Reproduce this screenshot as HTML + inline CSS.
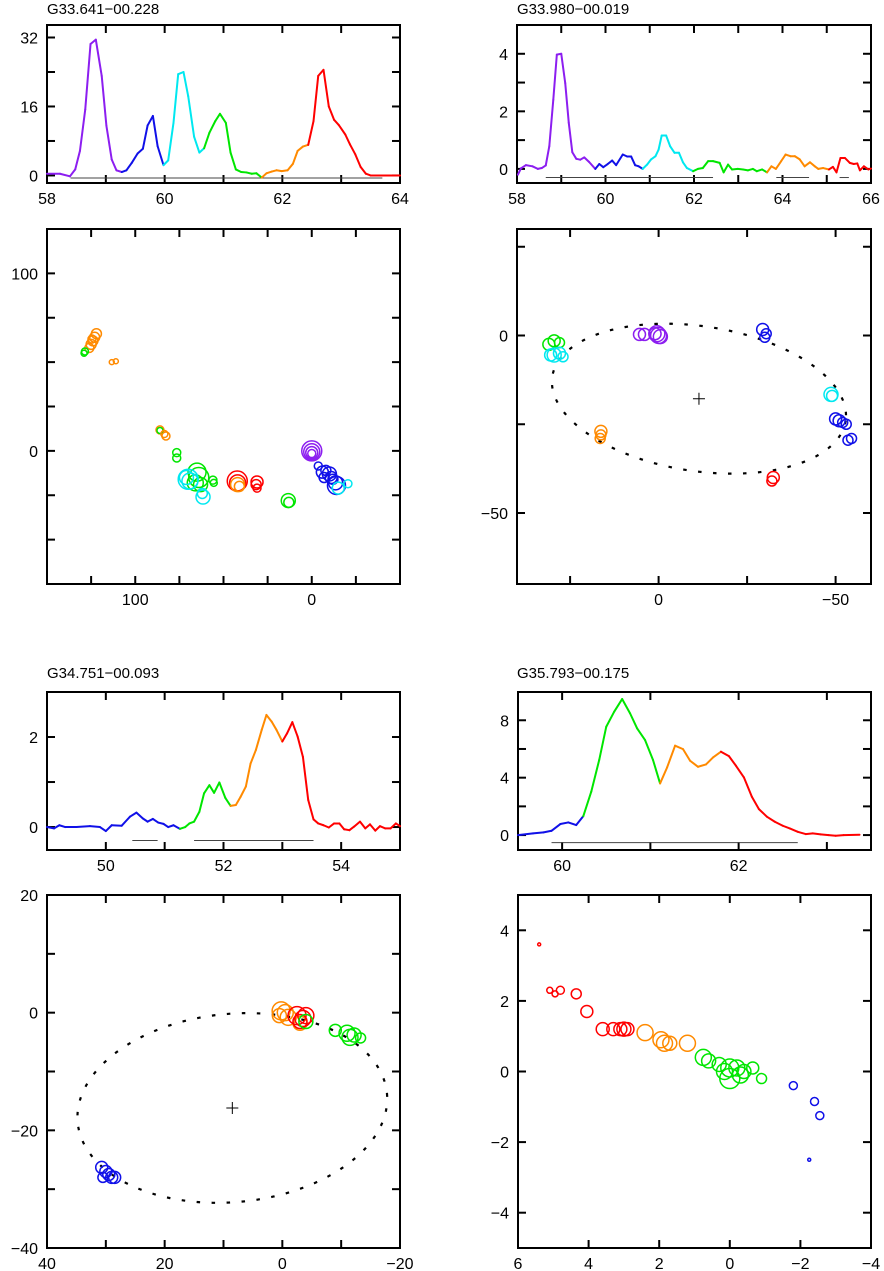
<!DOCTYPE html>
<html><head><meta charset="utf-8"><style>
html,body{margin:0;padding:0;background:#fff;}
svg{display:block;font-family:"Liberation Sans",sans-serif;}
</style></head><body>
<svg id="chart" width="884" height="1271" viewBox="0 0 884 1271" xmlns="http://www.w3.org/2000/svg">
<rect x="0" y="0" width="884" height="1271" fill="#fff"/>
<text x="47" y="14" font-size="15">G33.641−00.228</text>
<text x="517" y="14" font-size="15">G33.980−00.019</text>
<text x="47" y="678" font-size="15">G34.751−00.093</text>
<text x="517" y="678" font-size="15">G35.793−00.175</text>
</svg>
<script>
const COLORS={p:'#8c1ef0',b:'#1010e8',c:'#00e8f0',g:'#00e600',o:'#ff8a00',r:'#ff0000'};

// ---- Spectrum 1 ----
const s1Vel=[58.0,58.22,58.39,58.48,58.56,58.65,58.74,58.83,58.93,59.01,59.10,59.18,59.27,59.35,59.44,59.54,59.63,59.71,59.80,59.88,59.98,60.06,60.15,60.23,60.32,60.40,60.50,60.59,60.67,60.76,60.86,60.94,61.04,61.12,61.21,61.30,61.39,61.48,61.56,61.65,61.73,61.82,61.90,61.99,62.09,62.18,62.26,62.35,62.44,62.53,62.61,62.70,62.79,62.88,62.96,63.07,63.15,63.24,63.33,63.42,63.50,64.0];
const s1Val=[0.4,0.4,-0.2,1.4,5.7,15.3,30.5,31.5,23.1,11.5,3.7,1.2,0.8,1.2,2.9,5.1,6.2,11.6,13.8,6.8,2.4,3.5,12.2,23.5,24.0,18.4,9.0,5.3,6.3,9.9,12.6,14.3,12.2,5.3,1.4,0.8,0.7,0.4,0.5,-0.5,0.5,0.9,1.2,1.0,1.2,2.7,5.7,6.7,7.1,12.6,23.1,24.5,16.0,12.9,11.7,9.5,7.2,4.9,2.0,0.4,0,0];
const s1Breaks=[59.27,59.98,60.67,61.65,62.44];
const s1Colors=['p','b','c','g','o','r'];
const s1Base=[[58.4,63.7]];
const s1BaseLevel=-0.6;

// ---- Spectrum 2 ----
const s2Vel=[58.02,58.09,58.2,58.35,58.47,58.56,58.65,58.73,58.82,58.9,59.0,59.09,59.17,59.25,59.34,59.43,59.52,59.63,59.77,59.86,59.95,60.05,60.15,60.24,60.39,60.49,60.58,60.67,60.75,60.84,60.94,61.03,61.13,61.2,61.27,61.37,61.46,61.56,61.66,61.75,61.84,61.98,62.09,62.2,62.32,62.43,62.58,62.67,62.77,62.86,62.99,63.11,63.22,63.33,63.42,63.54,63.65,63.75,63.85,63.97,64.07,64.18,64.28,64.39,64.5,64.62,64.73,64.81,64.92,65.05,65.14,65.22,65.31,65.41,65.52,65.61,65.69,65.75,65.84,65.94,66.0];
const s2Val=[-0.2,0.02,0.13,0.09,0,0.03,0.12,0.79,2.4,3.97,4.0,2.98,1.6,0.58,0.35,0.32,0.4,0.24,0,0.17,0.06,0.17,0.29,0.13,0.5,0.43,0.43,0.13,0.09,0,0.15,0.33,0.44,0.67,1.16,1.16,0.79,0.56,0.56,0.23,0.03,-0.08,0,0.03,0.27,0.27,0.21,-0.12,0.15,-0.02,0,-0.02,-0.05,0,-0.08,-0.02,-0.12,0.09,0,0.27,0.5,0.44,0.44,0.33,0.09,0.23,0.09,0,0.03,-0.02,0.07,-0.12,0.38,0.38,0.21,0.17,0.19,-0.05,0.09,-0.02,0.01];
const s2Breaks=[59.77,60.84,61.98,63.65,65.05];
const s2Colors=['p','b','c','g','o','r'];
const s2Base=[[58.65,62.43],[63.86,64.6],[65.29,65.5]];
const s2BaseLevel=-0.3;

// ---- Spectrum 3 ----
const s3Vel=[49.0,49.12,49.21,49.31,49.5,49.73,49.9,50.0,50.1,50.27,50.41,50.52,50.63,50.71,50.8,50.89,50.98,51.06,51.15,51.26,51.35,51.42,51.5,51.59,51.67,51.76,51.84,51.93,52.03,52.12,52.21,52.29,52.38,52.46,52.55,52.65,52.73,52.82,52.9,53.0,53.08,53.17,53.26,53.35,53.44,53.53,53.61,53.7,53.79,53.88,53.97,54.05,54.14,54.22,54.32,54.41,54.49,54.58,54.66,54.75,54.84,54.93,55.0];
const s3Val=[0,-0.03,0.04,0,0,0.02,0,-0.09,0.04,0.03,0.23,0.32,0.19,0.12,0.18,0.1,0.07,0,0.04,-0.04,0,0.08,0.12,0.34,0.75,0.93,0.76,0.99,0.65,0.47,0.49,0.67,0.9,1.41,1.71,2.16,2.49,2.34,2.16,1.9,2.08,2.33,2.01,1.56,0.6,0.17,0.08,0.04,-0.01,0.08,0.08,-0.05,-0.07,0.01,0.12,-0.03,0.06,-0.08,0.02,-0.03,-0.03,0.08,0.02];
const s3Breaks=[51.26,52.12,53.0];
const s3Colors=['b','g','o','r'];
const s3Base=[[50.45,50.88],[51.5,53.53]];
const s3BaseLevel=-0.3;

// ---- Spectrum 4 ----
const s4Vel=[59.5,59.67,59.79,59.88,59.98,60.07,60.16,60.24,60.33,60.42,60.5,60.59,60.68,60.77,60.85,60.94,61.03,61.11,61.19,61.28,61.37,61.45,61.54,61.63,61.71,61.8,61.89,61.97,62.06,62.15,62.23,62.32,62.41,62.5,62.58,62.67,62.76,62.84,62.93,63.02,63.1,63.19,63.37];
const s4Val=[0,0.12,0.19,0.3,0.77,0.88,0.7,1.32,3.02,5.23,7.55,8.6,9.48,8.48,7.43,6.62,5.23,3.6,4.72,6.23,5.99,5.18,4.76,4.92,5.41,5.81,5.5,4.83,4.02,2.67,1.81,1.28,0.93,0.65,0.46,0.23,0.07,0.12,0.05,0,-0.05,0,0.02];
const s4Breaks=[60.24,61.11,61.8];
const s4Colors=['b','g','o','r'];
const s4Base=[[59.88,62.67]];
const s4BaseLevel=-0.53;

// ---- Spot maps: x offset, y offset, radius (px), colour ----
const m1X=[122,123,124,125,126,124.5,128.5,129,113.3,111,86,86,82.6,83.5,76.5,76.5,65,64,66,63,70,69,71,61.6,62,56,55.5,42.2,42,42,41,31,31.5,31,13.3,13,0,0,0,0,-3.7,-6,-8,-10,-11,-7,-12,-14,-13.5,-20.5,-15];
const m1Y=[66,64,62,60,58,63,56,55,50,50.5,11.8,11.5,8.4,9.5,-1,-4,-12,-15,-18,-19,-16,-17,-15,-26,-24,-16.5,-18,-17,-18,-19,-20,-17.5,-19,-21,-28,-29,0,-0.5,-1,-1.5,-8.5,-12,-11,-13,-15,-15,-16,-19.5,-18,-18.5,-21];
const m1R=[5,5,5,5,4.5,4,3.5,3,2.5,2.5,4,3,4,3.5,4,4,9,10,8,7,10,8,7,7,5,4,3.5,10,8,7,5,6,5,4,7,5,10,8,6,4,4,6,5,7,6,5,5,9,7,4,6];
const m1C=['o','o','o','o','o','o','g','g','o','o','o','g','o','o','g','g','g','g','g','g','c','c','c','c','c','g','g','r','r','o','o','r','r','r','g','g','p','p','p','p','b','b','b','b','b','b','b','b','b','c','c'];

const m2X=[31,29.5,28,29.5,30.5,28,27,5.4,4,0.5,0,-0.5,1,-29.4,-30.4,-30,-48.7,-49,-50,-51,-52,-53,-54.5,-53.5,16.3,16.3,16.5,-32.4,-32];
const m2Y=[-2.5,-1.5,-2,-5.5,-5.5,-5,-6,0.3,0.3,0.5,0,-0.3,0.5,1.7,0.5,-0.5,-16.6,-17,-23.5,-24,-24.5,-25,-29,-29.5,-27,-28,-29,-40,-41];
const m2R=[6,6,5,7,6,6,5,6,6,8,8,7,6,6,5,5,7,5.5,6,6,5,5,5,5,6,5,5,6,5];
const m2C=['g','g','g','c','c','c','c','p','p','p','p','p','p','b','b','b','c','c','b','b','b','b','b','b','o','o','o','r','r'];
const m2Ellipse=[-11.4,-17.8,41.9,20.4,8.6];

const m3X=[0.2,-0.5,0.5,-1,-3,-2.5,-3.5,-4,-3,-4,-9,-11,-11.5,-12.2,-13.3,30.7,30,29.5,29,28.5,30.5];
const m3Y=[0.3,0,-0.5,-0.8,-1.8,-0.5,-1,-0.5,-1.5,-1.5,-3,-3.5,-4.2,-3.8,-4.3,-26.3,-27,-27.5,-28,-28,-28];
const m3R=[9,8,7,8,7,9,8,8,7,7,6,8,8,7,5,6,6,6,6,6,5];
const m3C=['o','o','o','o','o','r','r','r','r','g','g','g','g','g','g','b','b','b','b','b','b'];
const m3Ellipse=[8.5,-16.2,26.4,16.0,-5.4];

const m4X=[5.4,5.1,4.95,4.8,4.35,4.05,3.6,3.3,3.1,3.0,2.9,2.4,1.95,1.85,1.7,1.2,0.75,0.6,0.3,0.15,0,0,-0.2,-0.3,-0.4,-0.65,-0.9,-1.8,-2.4,-2.55,-2.25];
const m4Y=[3.6,2.3,2.2,2.3,2.2,1.7,1.2,1.2,1.2,1.2,1.2,1.1,0.9,0.8,0.8,0.8,0.4,0.3,0.2,0,0.1,-0.2,0.1,-0.1,0,0.1,-0.2,-0.4,-0.85,-1.25,-2.5];
const m4R=[1.5,3,3,4,5,6,6.5,6.5,6.5,7,6.5,8,8,8,7,8,8,7,7,8,9,10,8,8,7,6,5,4,4,4,1.5];
const m4C=['r','r','r','r','r','r','r','r','r','r','r','o','o','o','o','o','g','g','g','g','g','g','g','g','g','g','g','b','b','b','b'];

const NS='http://www.w3.org/2000/svg';
const svg=document.getElementById('chart');
function mk(tag,attrs,parent){const e=document.createElementNS(NS,tag);for(const k in attrs)e.setAttribute(k,attrs[k]);(parent||svg).appendChild(e);return e;}
function fmt(v){return v<0?'\u2212'+Math.abs(v):String(v);}

function axes(name,box,xr,yr,xStep,xLab,yStep,yLab){
  const g=mk('g',{});
  
  
  const X=v=>box.x0+(v-xr[0])/(xr[1]-xr[0])*(box.x1-box.x0);
  const Y=v=>box.y1-(v-yr[0])/(yr[1]-yr[0])*(box.y1-box.y0);
  const xmin=Math.min(xr[0],xr[1]),xmax=Math.max(xr[0],xr[1]);
  for(let k=Math.ceil(xmin/xStep-1e-9);k*xStep<=xmax+1e-9;k++){
    const v=k*xStep,px=X(v);
    if(Math.abs(px-box.x0)<2||Math.abs(px-box.x1)<2)continue;
    const t1=mk('line',{x1:px,y1:box.y1,x2:px,y2:box.y1-8,stroke:'#000','stroke-width':2},g);
    
    
    const t2=mk('line',{x1:px,y1:box.y0,x2:px,y2:box.y0+8,stroke:'#000','stroke-width':2},g);
    
    
  }
  const ymin=Math.min(yr[0],yr[1]),ymax=Math.max(yr[0],yr[1]);
  for(let k=Math.ceil(ymin/yStep-1e-9);k*yStep<=ymax+1e-9;k++){
    const v=k*yStep,py=Y(v);
    if(Math.abs(py-box.y0)<2||Math.abs(py-box.y1)<2)continue;
    const t1=mk('line',{x1:box.x0,y1:py,x2:box.x0+8,y2:py,stroke:'#000','stroke-width':2},g);
    
    
    const t2=mk('line',{x1:box.x1,y1:py,x2:box.x1-8,y2:py,stroke:'#000','stroke-width':2},g);
    
    
  }
  xLab.forEach(v=>{
    const t=mk('text',{x:X(v),y:box.y1+21,'font-size':16,'text-anchor':'middle'},g);
    
    
    t.textContent=fmt(v);
  });
  yLab.forEach(v=>{
    const t=mk('text',{x:box.x0-9,y:Y(v)+6,'font-size':16,'text-anchor':'end'},g);
    
    
    t.textContent=fmt(v);
  });
  const fr=mk('rect',{x:box.x0,y:box.y0,width:box.x1-box.x0,height:box.y1-box.y0,fill:'none',stroke:'#000','stroke-width':2},g);
  
  
  return {X,Y,g};
}

function spectrum(name,ax,vel,val,breaks,cols,base,baseLevel){
  const g=mk('g',{});
  
  
  base.forEach(b=>{
    const l=mk('line',{x1:ax.X(b[0]),y1:ax.Y(baseLevel),x2:ax.X(b[1]),y2:ax.Y(baseLevel),stroke:'#444','stroke-width':1},g);
    
    
  });
  for(let i=0;i<vel.length-1;i++){
    const mid=(vel[i]+vel[i+1])/2;
    let ci=0;while(ci<breaks.length&&mid>breaks[ci])ci++;
    const l=mk('line',{x1:ax.X(vel[i]),y1:ax.Y(val[i]),x2:ax.X(vel[i+1]),y2:ax.Y(val[i+1]),stroke:COLORS[cols[ci]],'stroke-width':2,'stroke-linecap':'round'},g);
    
    
  }
}

function spots(name,ax,xs,ys,rs,cs){
  const g=mk('g',{});
  
  
  for(let i=0;i<xs.length;i++){
    const c=mk('circle',{cx:ax.X(xs[i]),cy:ax.Y(ys[i]),r:rs[i],fill:'none',stroke:COLORS[cs[i]],'stroke-width':1.5},g);
    
    
  }
}

function ellipse(name,ax,e){
  const [cx,cy,a,b,ang]=e;
  const kx=Math.abs(ax.X(1)-ax.X(0)),ky=Math.abs(ax.Y(1)-ax.Y(0));
  const sx=ax.X(cx),sy=ax.Y(cy),A=a*kx,B=b*ky,t=ang*Math.PI/180;
  let d='';
  for(let i=0;i<=240;i++){
    const f=i/240*2*Math.PI;
    const px=sx+A*Math.cos(f)*Math.cos(t)-B*Math.sin(f)*Math.sin(t);
    const py=sy+A*Math.cos(f)*Math.sin(t)+B*Math.sin(f)*Math.cos(t);
    d+=(i?'L':'M')+px.toFixed(2)+' '+py.toFixed(2);
  }
  const p=mk('path',{d:d,fill:'none',stroke:'#000','stroke-width':2.2,'stroke-dasharray':'3.5 11.5'});
  
  
  const cr=mk('path',{d:`M${sx-6} ${sy}H${sx+6}M${sx} ${sy-6}V${sy+6}`,stroke:'#000','stroke-width':1});
  
  
}

const a1=axes('spectrum-1-axes',{x0:47,x1:400,y0:25,y1:183},[58,64],[-1.75,34.9],1,[58,60,62,64],8,[0,16,32]);
spectrum('spectrum-1',a1,s1Vel,s1Val,s1Breaks,s1Colors,s1Base,s1BaseLevel);
const a2=axes('spectrum-2-axes',{x0:517,x1:871,y0:25,y1:183},[58,66],[-0.49,5.0],1,[58,60,62,64,66],1,[0,2,4]);
spectrum('spectrum-2',a2,s2Vel,s2Val,s2Breaks,s2Colors,s2Base,s2BaseLevel);
const a3=axes('spectrum-3-axes',{x0:47,x1:400,y0:692,y1:850},[49,55],[-0.51,3.0],1,[50,52,54],1,[0,2]);
spectrum('spectrum-3',a3,s3Vel,s3Val,s3Breaks,s3Colors,s3Base,s3BaseLevel);
const a4=axes('spectrum-4-axes',{x0:518,x1:871,y0:692,y1:850},[59.5,63.5],[-1.04,9.97],1,[60,62],2,[0,4,8]);
spectrum('spectrum-4',a4,s4Vel,s4Val,s4Breaks,s4Colors,s4Base,s4BaseLevel);

const b1=axes('map-1-axes',{x0:47,x1:400,y0:229,y1:584},[150,-50],[-75,125],25,[100,0],25,[100,0]);
spots('map-1-spots',b1,m1X,m1Y,m1R,m1C);
const b2=axes('map-2-axes',{x0:517,x1:871,y0:229,y1:584},[40,-60],[-70,30],25,[0,-50],25,[0,-50]);
ellipse('map-2-ellipse',b2,m2Ellipse);
spots('map-2-spots',b2,m2X,m2Y,m2R,m2C);
const b3=axes('map-3-axes',{x0:47,x1:400,y0:895,y1:1248},[40,-20],[-40,20],10,[40,20,0,-20],10,[20,0,-20,-40]);
ellipse('map-3-ellipse',b3,m3Ellipse);
spots('map-3-spots',b3,m3X,m3Y,m3R,m3C);
const b4=axes('map-4-axes',{x0:518,x1:871,y0:895,y1:1248},[6,-4],[-5,5],2,[6,4,2,0,-2,-4],2,[4,2,0,-2,-4]);
spots('map-4-spots',b4,m4X,m4Y,m4R,m4C);
</script>
</body></html>
